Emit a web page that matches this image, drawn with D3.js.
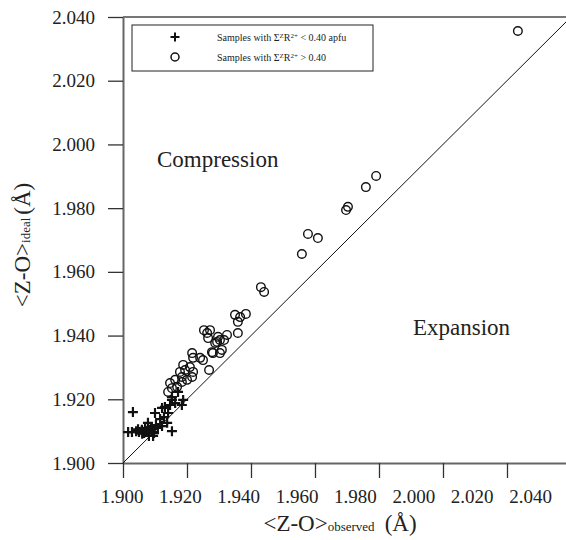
<!DOCTYPE html>
<html>
<head>
<meta charset="utf-8">
<script src="https://cdn.jsdelivr.net/npm/d3@7"></script>
<style>
	body { margin: 0; background: #fff; }
	svg text { font-family: 'Liberation Serif', 'DejaVu Serif', serif; fill: #222; }
</style>
</head>
<body>
<div id="chart"></div>
<script>
///////////////////////////////////////////////////////////////////////////
////////////////////// Data: <Z-O> observed vs ideal //////////////////////
///////////////////////////////////////////////////////////////////////////

//Samples with sum ZR2+ < 0.40 apfu: [observed, ideal]
var lowObserved = [1.9031,1.9016,1.9028,1.9041,1.9050,1.9059,1.9066,1.9072,1.9078,1.9084,1.9091,1.9081,1.9094,1.9088,1.9078,
		1.9103,1.9100,1.9116,1.9122,1.9128,1.9138,1.9141,1.9153,1.9131,1.9147,1.9122,1.9163,1.9153,1.9172,1.9184,1.9188,1.9153,
		1.9109,1.9069,1.9047,1.9060,1.9097],
	lowIdeal = [1.9160,1.9097,1.9097,1.9100,1.9097,1.9104,1.9094,1.9100,1.9097,1.9104,1.9097,1.9085,1.9085,1.9113,1.9126,
		1.9119,1.9157,1.9138,1.9116,1.9144,1.9126,1.9157,1.9100,1.9176,1.9182,1.9173,1.9188,1.9198,1.9223,1.9182,1.9198,1.9207,
		1.9110,1.9110,1.9106,1.9092,1.9094];

//Samples with sum ZR2+ > 0.40
var highObserved = [2.0234,1.9791,1.9759,1.9703,1.9697,1.9609,1.9578,1.9559,1.9431,1.9441,1.9384,1.9366,1.9350,1.9359,
		1.9272,1.9263,1.9266,1.9325,1.9303,1.9359,1.9294,1.9216,1.9219,1.9241,1.9250,1.9278,1.9281,1.9309,1.9303,1.9188,
		1.9194,1.9209,1.9219,1.9178,1.9184,1.9200,1.9216,1.9269,1.9147,1.9163,1.9169,1.9184,1.9141,1.9153,1.9253,1.9288,1.9297,1.9316],
	highIdeal = [2.0356,1.9901,1.9866,1.9804,1.9794,1.9706,1.9719,1.9656,1.9552,1.9537,1.9468,1.9458,1.9465,1.9443,
		1.9417,1.9408,1.9392,1.9402,1.9386,1.9408,1.9380,1.9345,1.9330,1.9330,1.9323,1.9348,1.9345,1.9355,1.9345,1.9308,
		1.9292,1.9301,1.9286,1.9286,1.9270,1.9261,1.9270,1.9292,1.9251,1.9261,1.9239,1.9254,1.9223,1.9235,1.9417,1.9377,1.9396,1.9386];

var tickValues = [1.900,1.920,1.940,1.960,1.980,2.000,2.020,2.040];

///////////////////////////////////////////////////////////////////////////
///////////////////////////// Scales & SVG ////////////////////////////////
///////////////////////////////////////////////////////////////////////////

var width = 566,
	height = 540,
	serif = "'Liberation Serif', 'DejaVu Serif', serif";

var x = d3.scaleLinear().domain([1.900, 2.040]).range([123, 571]),
	y = d3.scaleLinear().domain([1.900, 2.040]).range([463, 17]),
	//the printed labels under the x axis sit a bit tighter than the tick marks
	xLabel = d3.scaleLinear().domain([1.900, 2.040]).range([121.5, 530]);

var svg = d3.select("#chart").append("svg")
	.attr("width", width)
	.attr("height", height)
	.style("font-family", serif);

///////////////////////////////////////////////////////////////////////////
////////////////////////////// Axes ///////////////////////////////////////
///////////////////////////////////////////////////////////////////////////

//Top border
svg.append("line")
	.attr("x1", x(1.900)).attr("x2", x(2.040))
	.attr("y1", y(2.040)).attr("y2", y(2.040))
	.style("stroke", "#777")
	.style("stroke-width", 2);

var yAxis = svg.append("g")
	.attr("transform", "translate(" + x(1.900) + ",0)")
	.call(d3.axisLeft(y).tickValues(tickValues).tickFormat(d3.format(".3f"))
		.tickSize(15).tickSizeOuter(0).tickPadding(13));

var xAxis = svg.append("g")
	.attr("transform", "translate(0," + y(1.900) + ")")
	.call(d3.axisBottom(x).tickValues(tickValues).tickFormat("")
		.tickSize(15).tickSizeOuter(0));

var xLabels = svg.append("g")
	.attr("transform", "translate(0," + y(1.900) + ")")
	.call(d3.axisBottom(xLabel).tickValues(tickValues).tickFormat(d3.format(".3f"))
		.tickSize(0).tickPadding(27));
xLabels.select(".domain").remove();

//d3 puts font-family="sans-serif" on every axis group, so override it there
svg.selectAll("g").attr("font-family", serif);
svg.selectAll(".domain").style("stroke", "#666").style("stroke-width", 2);
svg.selectAll(".tick line").style("stroke", "#333").style("stroke-width", 1.3);
svg.selectAll(".tick text")
	.style("font-size", "19px")
	.attr("fill", "#222");

//Axis titles
var xTitle = svg.append("text")
	.attr("x", 340)
	.attr("y", 531)
	.style("text-anchor", "middle")
	.style("font-size", "23px");
xTitle.append("tspan").text("<Z-O>");
xTitle.append("tspan").style("font-size", "13px").text("observed");
xTitle.append("tspan").attr("dx", 10).text("(Å)");

var yTitle = svg.append("text")
	.attr("transform", "translate(30,245) rotate(-90)")
	.style("text-anchor", "middle")
	.style("font-size", "23px");
yTitle.append("tspan").text("<Z-O>");
yTitle.append("tspan").style("font-size", "13px").text("ideal");
yTitle.append("tspan").attr("dx", 3).text("(Å)");

///////////////////////////////////////////////////////////////////////////
//////////////////////////// Plot content /////////////////////////////////
///////////////////////////////////////////////////////////////////////////

//1:1 line
svg.append("line")
	.attr("x1", x(1.900)).attr("y1", y(1.900))
	.attr("x2", x(2.040)).attr("y2", y(2.040))
	.style("stroke", "#111")
	.style("stroke-width", 1);

svg.append("text").attr("x", 157).attr("y", 167).style("font-size", "23px").text("Compression");
svg.append("text").attr("x", 413).attr("y", 335).style("font-size", "23px").text("Expansion");

var crossPath = "M-5,0H5M0,-5V5";

svg.selectAll(".low")
	.data(d3.range(lowObserved.length))
	.enter().append("path")
	.attr("class", "low")
	.attr("d", crossPath)
	.attr("transform", function(i) { return "translate(" + x(lowObserved[i]) + "," + y(lowIdeal[i]) + ")"; })
	.style("stroke", "#111")
	.style("stroke-width", 2.2);

svg.selectAll(".high")
	.data(d3.range(highObserved.length))
	.enter().append("circle")
	.attr("class", "high")
	.attr("cx", function(i) { return x(highObserved[i]); })
	.attr("cy", function(i) { return y(highIdeal[i]); })
	.attr("r", 4.3)
	.style("fill", "none")
	.style("stroke", "#111")
	.style("stroke-width", 1.4);

///////////////////////////////////////////////////////////////////////////
//////////////////////////////// Legend ///////////////////////////////////
///////////////////////////////////////////////////////////////////////////

svg.append("rect")
	.attr("x", 132).attr("y", 25)
	.attr("width", 241).attr("height", 46)
	.style("fill", "#fff")
	.style("stroke", "#222")
	.style("stroke-width", 1);

svg.append("path")
	.attr("d", "M-4.5,0H4.5M0,-4.5V4.5")
	.attr("transform", "translate(175,37)")
	.style("stroke", "#111").style("stroke-width", 2);
svg.append("circle")
	.attr("cx", 175).attr("cy", 57).attr("r", 4)
	.style("fill", "none").style("stroke", "#111").style("stroke-width", 1.5);

var legendRows = [" < 0.40 apfu", " > 0.40"];
legendRows.forEach(function(tail, i) {
	var t = svg.append("text")
		.attr("x", 217)
		.attr("y", 41 + i * 20)
		.style("font-size", "10px");
	t.append("tspan").text("Samples with  \u03A3");
	t.append("tspan").attr("dy", -3).style("font-size", "7px").text("Z");
	t.append("tspan").attr("dy", 3).text("R");
	t.append("tspan").attr("dy", -3).style("font-size", "7px").text("2+");
	t.append("tspan").attr("dy", 3).text(tail);
});
</script>
</body>
</html>
